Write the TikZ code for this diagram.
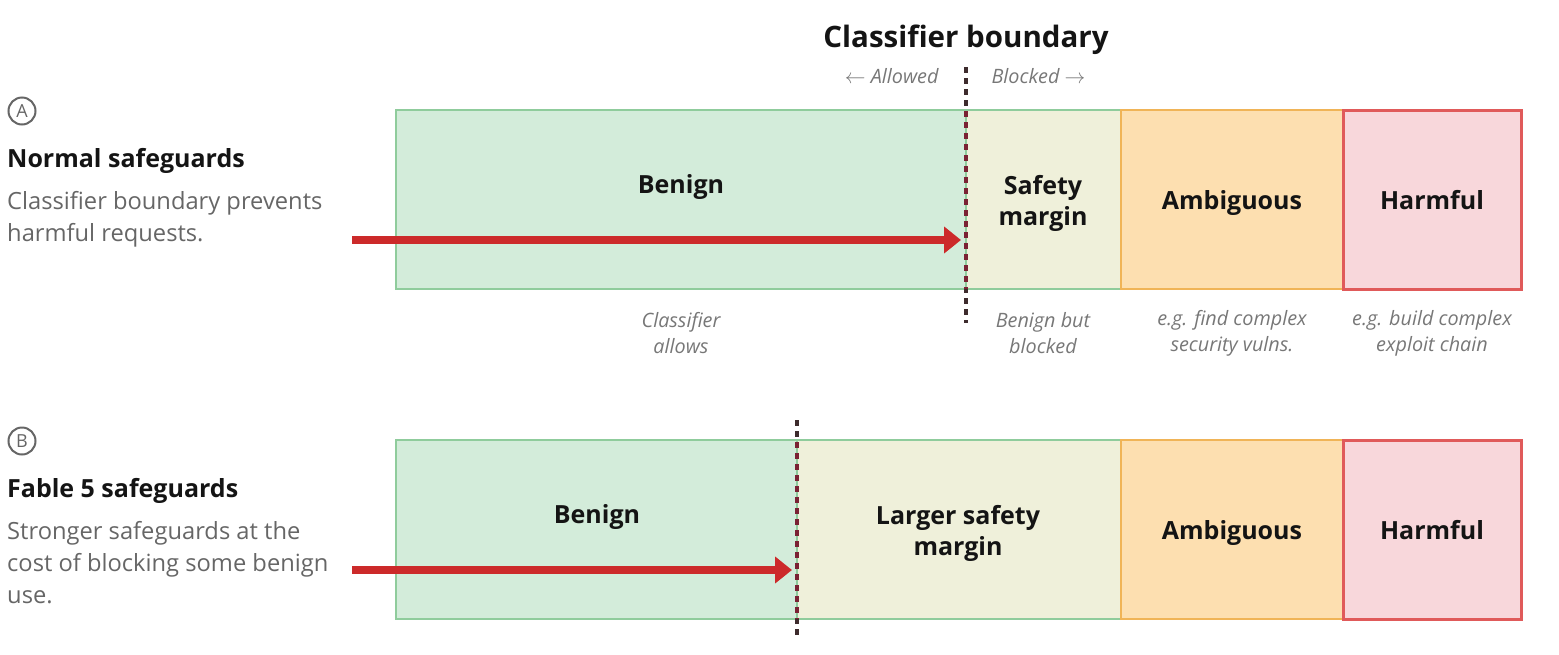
\documentclass[tikz,border=0pt]{standalone}
\usepackage{fontspec}
\setmainfont{Open Sans}
\usetikzlibrary{arrows.meta}
\definecolor{bgreen}{HTML}{D3ECDA}
\definecolor{lgreen}{HTML}{8FCC9C}
\definecolor{cream}{HTML}{EFF0DA}
\definecolor{amb}{HTML}{FDDFB0}
\definecolor{ambline}{HTML}{F0B457}
\definecolor{harm}{HTML}{F8D7DB}
\definecolor{harmline}{HTML}{E05A5A}
\definecolor{arrowred}{HTML}{CC2A2A}
\definecolor{bline}{HTML}{3D2B2D}
\definecolor{bline2}{HTML}{7A2233}
\definecolor{txtgray}{HTML}{666666}
\definecolor{labgray}{HTML}{777777}
\definecolor{ink}{HTML}{141414}
\tikzset{
  zone/.style={anchor=north west, minimum height=179pt, inner sep=0pt, outer sep=0pt},
  benignbox/.style={zone, fill=bgreen, draw=lgreen, line width=2pt},
  marginbox/.style={zone, fill=cream, draw=lgreen, line width=2pt},
  ambbox/.style={zone, fill=amb, draw=ambline, line width=2pt},
  harmbox/.style={zone, fill=harm, draw=harmline, line width=3pt},
  zonelabel/.style={font=\fontsize{25}{31}\selectfont\bfseries, text=ink, align=center},
  sublabel/.style={font=\fontsize{19.8}{26}\selectfont\itshape, text=labgray, align=center},
  heading/.style={anchor=west, font=\fontsize{25}{30}\selectfont\bfseries, text=ink, inner sep=0pt},
  desc/.style={anchor=north west, font=\fontsize{23.7}{32}\selectfont, text=txtgray, align=left, inner sep=0pt},
  badge/.style={circle, draw=txtgray, line width=2pt, minimum size=27pt, inner sep=0pt, text=txtgray, font=\fontsize{18}{18}\selectfont},
  flow/.style={arrowred, line width=8pt, -{Triangle[length=17pt,width=26pt]}},
  boundary/.style={line width=4pt, dash pattern=on 6pt off 5pt},
}
\begin{document}
\begin{tikzpicture}[x=1pt,y=-1pt]
\useasboundingbox (0,0) rectangle (1559,654);

% ---------- Panel A ----------
\node[badge] (badgeA) at (22,111) {A};
\node[heading] (headA) at (7,161) {Normal safeguards};
\node[desc] (descA) at (7,191) {Classifier boundary prevents\\harmful requests.};

\node[benignbox, minimum width=570pt] (benA) at (396,110) {};
\node[marginbox, minimum width=155pt] (marA) at (966,110) {};
\node[ambbox, minimum width=222pt] (ambA) at (1121,110) {};
\node[harmbox, minimum width=178pt] (harA) at (1343,110) {};

\node[zonelabel] (lbenA) at (681,187) {Benign};
\node[zonelabel] (lmarA) at (1043,203) {Safety\\margin};
\node[zonelabel] (lambA) at (1232,203) {Ambiguous};
\node[zonelabel] (lharA) at (1432,200) {Harmful};

\node[sublabel] (sbenA) at (681,333) {Classifier\\allows};
\node[sublabel] (smarA) at (1043,333) {Benign but\\blocked};
\node[sublabel] (sambA) at (1232,333) {e.g. find complex\\security vulns.};
\node[sublabel] (sharA) at (1432,333) {e.g. build complex\\exploit chain};

\node[font=\fontsize{29.5}{34}\selectfont\bfseries, text=ink] (title) at (966,40) {Classifier boundary};
\node[sublabel, anchor=east] (allowed) at (942,76) {$\leftarrow$ Allowed};
\node[sublabel, anchor=west] (blocked) at (988,76) {Blocked $\rightarrow$};

\coordinate (bAtop) at (966,67);
\coordinate (bAbot) at (966,323);
\draw[boundary, bline] (bAtop) -- (bAbot);
\begin{scope}
\clip (900,111) rectangle (1000,288);
\draw[boundary, bline2] (bAtop) -- (bAbot);
\end{scope}

\coordinate (startA) at (352,240);
\coordinate (tipA) at (961,240);
\draw[flow] (startA) -- (tipA);

% ---------- Panel B ----------
\node[badge] (badgeB) at (22,441) {B};
\node[heading] (headB) at (7,491) {Fable 5 safeguards};
\node[desc] (descB) at (7,521) {Stronger safeguards at the\\cost of blocking some benign\\use.};

\node[benignbox, minimum width=401pt] (benB) at (396,440) {};
\node[marginbox, minimum width=324pt] (marB) at (797,440) {};
\node[ambbox, minimum width=222pt] (ambB) at (1121,440) {};
\node[harmbox, minimum width=178pt] (harB) at (1343,440) {};

\node[zonelabel] (lbenB) at (597,517) {Benign};
\node[zonelabel] (lmarB) at (958,533) {Larger safety\\margin};
\node[zonelabel] (lambB) at (1232,533) {Ambiguous};
\node[zonelabel] (lharB) at (1432,530) {Harmful};

\coordinate (bBtop) at (797,420);
\coordinate (bBbot) at (797,637);
\draw[boundary, bline] (bBtop) -- (bBbot);
\begin{scope}
\clip (700,441) rectangle (900,618);
\draw[boundary, bline2] (bBtop) -- (bBbot);
\end{scope}

\coordinate (startB) at (352,570);
\coordinate (tipB) at (792,570);
\draw[flow] (startB) -- (tipB);
\end{tikzpicture}
\end{document}
